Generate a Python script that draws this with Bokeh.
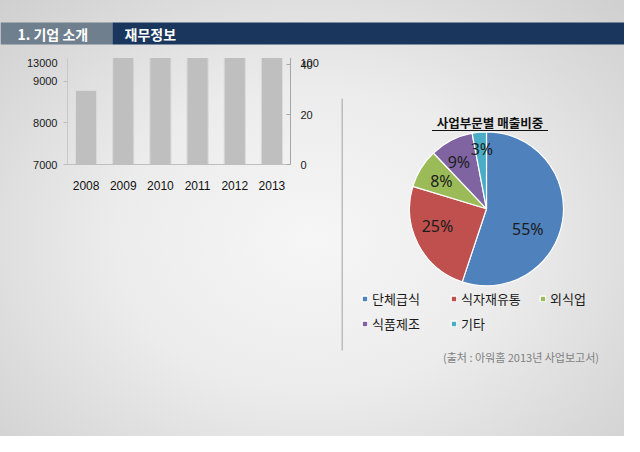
import math
from bokeh.plotting import figure
from bokeh.models import (ColumnDataSource, Range1d, DataRange1d, LinearAxis, FixedTicker,
                          Label, LabelSet, Legend, LegendItem)
from bokeh.layouts import column, row
from bokeh.embed import file_html
from bokeh.resources import INLINE
from bokeh.core.properties import value

# ---------------- data ----------------
years = ["2008", "2009", "2010", "2011", "2012", "2013"]
sales = [8780, 10100, 11240, 12362, 11930, 11623]          # 매출액 (억 원)
debt_ratio = [98.5, 92.5, 99.7, 80.7, 53.9, 50.3]          # 부채비율 (%)
labelled_years = ["2011", "2012", "2013"]
sales_ticks = [7000, 8000, 9000, 10000, 11000, 12000, 13000]
ratio_ticks = [0, 20, 40, 60, 80, 100]

segments = ["단체급식", "식자재유통", "외식업", "식품제조", "기타"]
shares = [55.1, 24.6, 8.2, 9.1, 3.0]

# ---------------- styles ----------------
KR = "Noto Sans CJK KR"
NUM = "Liberation Sans"
seg_colors = ["#4F81BD", "#C0504D", "#9BBB59", "#8064A2", "#4BACC6"]
label_radius = [46, 52, 53, 54, 60]
label_shift_deg = [-17, -8, 0, 3.5, -1]


def blank(fig):
    fig.background_fill_alpha = 0
    fig.border_fill_alpha = 0
    fig.outline_line_color = None
    fig.grid.grid_line_color = None


# ---------------- header ----------------
hdr = figure(width=624, height=58, x_range=Range1d(0, 624), y_range=Range1d(58, 0),
             x_axis_type=None, y_axis_type=None, min_border=0,
             output_backend="svg", toolbar_location=None)
blank(hdr)
hdr.quad(left=[0], right=[112], top=[22], bottom=[44], fill_color="#6F7F8E", line_color=None)
hdr.quad(left=[112], right=[624], top=[22], bottom=[44], fill_color="#1B365D", line_color=None)
hdr.text(x=[17], y=[33.5], text=["1. 기업 소개"], text_font=value(KR), text_font_size="14px",
         text_font_style="bold", text_color="white", text_baseline="middle")
hdr.text(x=[124], y=[33.5], text=["재무정보"], text_font=value(KR), text_font_size="14px",
         text_font_style="bold", text_color="white", text_baseline="middle")

# ---------------- left combo chart ----------------
xs = list(range(len(years)))
bar_labels = [f"{v:,}".replace(",", ".") if y in labelled_years else "" for y, v in zip(years, sales)]
src = ColumnDataSource(dict(x=xs, year=years, sales=sales, ratio=debt_ratio, lab=bar_labels))

top_pad = (sales_ticks[-1] - sales_ticks[0]) * 0.025
left = figure(width=341, height=378,
              x_range=DataRange1d(start=-0.5, end=len(years) - 0.5, range_padding=0),
              y_range=DataRange1d(start=sales_ticks[0], end=sales_ticks[-1] + top_pad, range_padding=0),
              min_border_left=67, min_border_right=51, min_border_top=106, min_border_bottom=156,
              output_backend="svg", toolbar_location=None)
blank(left)
left.extra_y_ranges = {"pct": DataRange1d(start=ratio_ticks[0], end=ratio_ticks[-1] * 1.025,
                                          range_padding=0)}

bars = left.vbar(x="x", top="sales", bottom=sales_ticks[0], width=0.57, source=src,
                 fill_color="#BFBFBF", line_color="#DCDCDC", line_width=1)
ln = left.line(x="x", y="ratio", y_range_name="pct", source=src,
               line_color="#595959", line_width=3.5)
mk = left.scatter(x="x", y="ratio", y_range_name="pct", source=src, marker="square",
                  size=10, fill_color="#574F4F", line_color="#C98582", line_width=1)

left.add_layout(LabelSet(x="x", y="sales", text="lab", source=src, text_align="center",
                         text_baseline="middle", x_offset=1, text_font=value(NUM),
                         text_font_size="12px", text_color="#111111"))

yl = left.yaxis[0]
yl.ticker = FixedTicker(ticks=sales_ticks)
yl.axis_line_color = "#C8C8C8"
yl.major_tick_line_color = "#BFBFBF"
yl.major_tick_out = 4
yl.major_tick_in = 0
yl.minor_tick_line_color = None
yl.major_label_standoff = 6
yl.major_label_text_font = NUM
yl.major_label_text_font_size = "11px"
yl.major_label_text_color = "#1A1A1A"

yr = LinearAxis(y_range_name="pct", ticker=FixedTicker(ticks=ratio_ticks))
yr.axis_line_color = "#A6A6A6"
yr.major_tick_line_color = "#A6A6A6"
yr.major_tick_in = 4
yr.major_tick_out = 0
yr.minor_tick_line_color = None
yr.major_label_standoff = 10
yr.major_label_text_font = NUM
yr.major_label_text_font_size = "11px"
yr.major_label_text_color = "#1A1A1A"
left.add_layout(yr, "right")

xa = left.xaxis[0]
xa.ticker = FixedTicker(ticks=xs)
xa.major_label_overrides = {i: y for i, y in zip(xs, years)}
xa.axis_line_color = "#BFBFBF"
xa.major_tick_line_color = None
xa.minor_tick_line_color = None
xa.major_label_standoff = 10
xa.major_label_text_font = NUM
xa.major_label_text_font_size = "12px"
xa.major_label_text_color = "#111111"

swatch = left.line(x=[], y=[], line_color="#BFBFBF", line_width=7)
leg = Legend(items=[LegendItem(label="매출액", renderers=[swatch]),
                    LegendItem(label="부채비율", renderers=[ln, mk])],
             orientation="horizontal", location="center", margin=0, padding=4,
             border_line_color=None, background_fill_alpha=0,
             glyph_width=18, glyph_height=20, label_height=20, label_standoff=3, spacing=12,
             label_text_font=KR, label_text_font_size="12px", label_text_color="#1A1A1A")
left.add_layout(leg, "below")

left.add_layout(Label(x=105, y=135, x_units="screen", y_units="screen", text="아워홈 주요 재무지표",
                      text_align="center", text_baseline="middle", text_font=KR,
                      text_font_size="12px", text_font_style="bold", text_color="#111111"))
left.add_layout(Label(x=-17, y=132, x_units="screen", y_units="screen", text="(단위 : 억 원)",
                      text_align="center", text_baseline="middle", text_font=KR,
                      text_font_size="10px", text_color="#1A1A1A"))
left.add_layout(Label(x=241, y=132, x_units="screen", y_units="screen", text="(단위 : %)",
                      text_align="center", text_baseline="middle", text_font=KR,
                      text_font_size="10px", text_color="#1A1A1A"))
left.add_layout(Label(x=180, y=-78, x_units="screen", y_units="screen",
                      text="(출처 : 아워홈 2013년 사업보고서)",
                      text_align="center", text_baseline="middle", text_font=KR,
                      text_font_size="11px", text_color="#7F7F7F"))

# ---------------- right pie chart ----------------
cx, cy, R = 145, 150.3, 77
total = sum(shares)
starts, ends, lx, ly, ptxt = [], [], [], [], []
cum = 0.0
for i, s in enumerate(shares):
    a0 = math.pi / 2 - 2 * math.pi * cum / total
    a1 = math.pi / 2 - 2 * math.pi * (cum + s) / total
    cum += s
    starts.append(a0)
    ends.append(a1)
    mid = (a0 + a1) / 2 + math.radians(label_shift_deg[i])
    lx.append(cx + label_radius[i] * math.cos(mid))
    ly.append(cy - label_radius[i] * math.sin(mid))
    ptxt.append(f"{round(s)}%")

psrc = ColumnDataSource(dict(seg=segments, share=shares, start=starts, end=ends,
                             color=seg_colors, lx=lx, ly=ly, txt=ptxt,
                             x=[cx] * len(shares), y=[cy] * len(shares)))

pie = figure(width=283, height=378, x_range=Range1d(0, 283), y_range=Range1d(378, 0),
             x_axis_type=None, y_axis_type=None, min_border=0, frame_align=False,
             output_backend="svg", toolbar_location=None)
blank(pie)
pie.segment(x0=[0.5], x1=[0.5], y0=[40], y1=[292], line_color="#ABABAB", line_width=1.5)
wr = pie.wedge(x="x", y="y", radius=R, radius_units="screen", start_angle="start",
               end_angle="end", direction="clock", source=psrc,
               fill_color="color", line_color="white", line_width=1.2)
pie.text(x="lx", y="ly", text="txt", source=psrc, text_align="center", text_baseline="middle",
         text_font=value("Noto Sans"), text_font_size="16px", text_color="#1C1C1C")
pie.text(x=[148.5], y=[63.7], text=["사업부문별 매출비중"], text_align="center",
         text_baseline="middle", text_font=value(KR), text_font_size="12.5px",
         text_font_style="bold", text_color="#111111")
pie.segment(x0=[90.5], x1=[206.5], y0=[72], y1=[72], line_color="#111111", line_width=1)
pie.text(x=[179.5], y=[298], text=["(출처 : 아워홈 2013년 사업보고서)"], text_align="center",
         text_baseline="middle", text_font=value(KR), text_font_size="11px", text_color="#7F7F7F")

pleg = Legend(items=[LegendItem(label=s, renderers=[wr], index=i) for i, s in enumerate(segments)],
              orientation="horizontal", ncols=3, location=(20, 103), margin=0, padding=0,
              border_line_color=None, background_fill_alpha=0,
              glyph_width=7, glyph_height=7, label_height=16, label_width=72,
              label_standoff=4, spacing=6,
              label_text_font=KR, label_text_font_size="13px", label_text_color="#1A1A1A")
pie.add_layout(pleg)

page = column(hdr, row(left, pie),
              styles={"background": "radial-gradient(ellipse at 50% 55%, #f6f6f6 0%, #ececec 45%, #cfcfcf 100%)"})

open("out.html", "w").write(file_html(page, INLINE))
